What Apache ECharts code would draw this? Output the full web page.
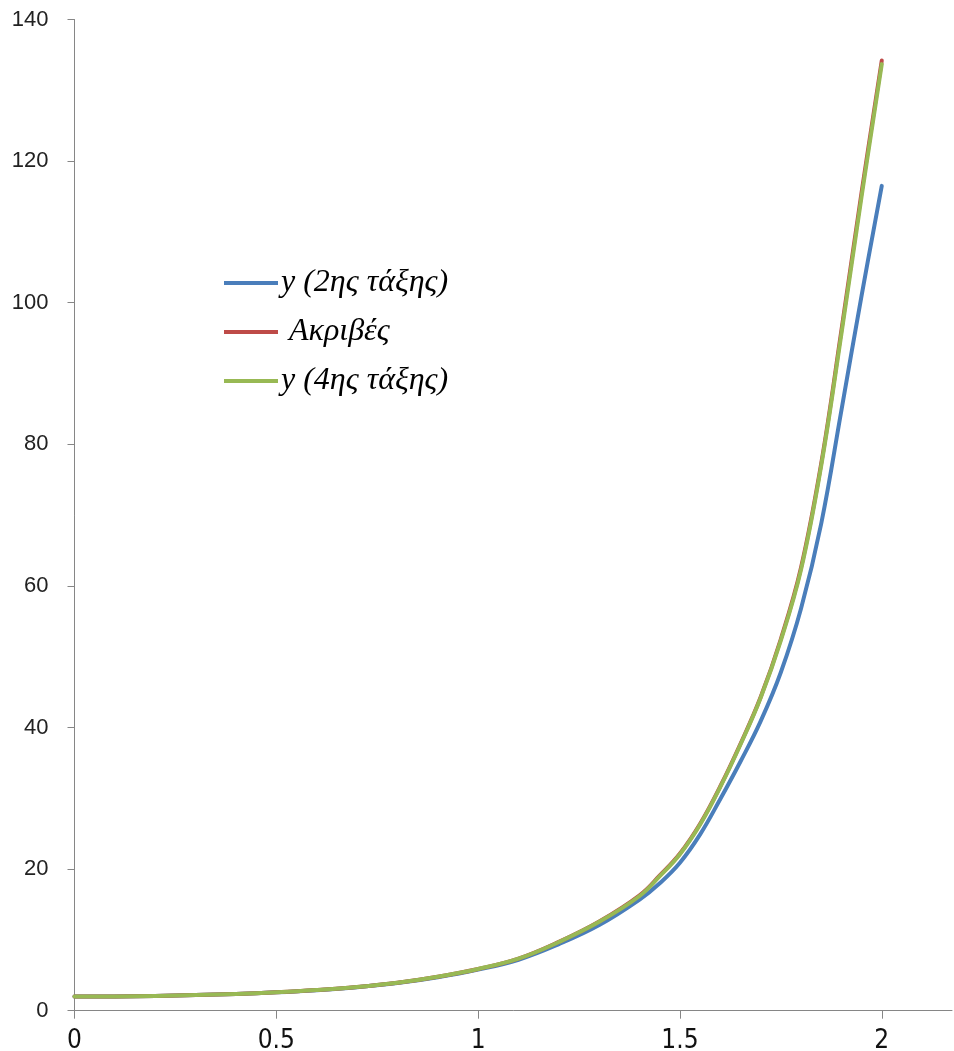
<!DOCTYPE html>
<html>
<head>
<meta charset="utf-8">
<script src="https://cdn.jsdelivr.net/npm/echarts@6/dist/echarts.min.js"></script>
<style>
html,body{margin:0;padding:0;background:#fff;}
#chart{width:954px;height:1051px;}
</style>
</head>
<body>
<div id="chart"></div>
<script>
// ---- data ----
var xValues   = [0.0, 0.1, 0.2, 0.3, 0.4, 0.5, 0.6, 0.7, 0.8, 0.9, 1.0, 1.1, 1.2, 1.3, 1.4, 1.45, 1.5, 1.55, 1.6, 1.65, 1.7, 1.75, 1.8, 1.85, 1.9, 1.95, 2.0];
var y2ndOrder = [2.00,2.02,2.09,2.20,2.36,2.59,2.90,3.32,3.90,4.72,5.80,7.20,9.40,12.1,15.7,18.0,20.9,24.9,29.9,35.2,40.9,47.8,56.8,68.8,84.8,101.0,116.5];
var yExact    = [2.00,2.02,2.09,2.20,2.37,2.60,2.92,3.35,3.95,4.80,5.90,7.36,9.72,12.6,16.3,19.1,22.2,26.4,31.7,37.7,44.3,52.5,62.6,77.3,96.1,115.6,134.2];
var y4thOrder = [2.00,2.02,2.09,2.20,2.37,2.60,2.92,3.35,3.95,4.80,5.90,7.35,9.70,12.55,16.2,19.0,22.1,26.3,31.6,37.6,44.2,52.3,62.3,77.0,95.6,115.0,133.7];
var xTickValues = [0, 0.5, 1, 1.5, 2];
var seriesNames = ['y (2ης τάξης)', ' Ακριβές', 'y (4ης τάξης)'];
var seriesColors = ['#4A7EBB', '#BE4B48', '#98B954'];

function pairs(ys){ return xValues.map(function(x,i){ return [x, ys[i]]; }); }

var chart = echarts.init(document.getElementById('chart'), null, {renderer:'canvas'});
var axisGray = '#868686';
function lineSeries(idx, ys, z){
  return {
    name: seriesNames[idx], type: 'line', data: pairs(ys), smooth: 0.4, symbol: 'none',
    lineStyle: {color: seriesColors[idx], width: 4, cap: 'round', join: 'round'},
    itemStyle: {color: seriesColors[idx]}, z: z
  };
}
var option = {
  animation: false,
  backgroundColor: '#ffffff',
  grid: {left: 74.5, right: 2, top: 19.5, bottom: 40.3, containLabel: false, outerBoundsMode: 'none'},
  legend: {
    orient: 'vertical',
    left: 224,
    top: 267,
    padding: 0,
    icon: 'rect',
    itemWidth: 54,
    itemHeight: 4,
    itemGap: 17,
    data: seriesNames,
    textStyle: {
      fontFamily: '"Liberation Serif", "DejaVu Serif", serif',
      fontStyle: 'italic',
      fontSize: 32,
      color: '#000',
      padding: [0, 0, 0, -2]
    }
  },
  xAxis: {
    type: 'value',
    min: 0,
    max: 2.174,
    axisLine: {show: true, onZero: false, lineStyle: {color: axisGray, width: 1}},
    axisTick: {show: true, customValues: xTickValues, length: 8, lineStyle: {color: axisGray}},
    axisLabel: {
      customValues: xTickValues,
      margin: 18,
      fontSize: 26,
      fontFamily: '"Liberation Sans Narrow", "DejaVu Sans Condensed", sans-serif',
      color: '#111'
    },
    splitLine: {show: false}
  },
  yAxis: {
    type: 'value',
    min: 0,
    max: 140,
    interval: 20,
    axisLine: {show: true, lineStyle: {color: axisGray, width: 1}},
    axisTick: {show: true, length: 7, lineStyle: {color: axisGray}},
    axisLabel: {
      margin: 26,
      fontSize: 22,
      fontFamily: '"Liberation Sans", Arial, sans-serif',
      color: '#222'
    },
    splitLine: {show: false}
  },
  series: [
    lineSeries(0, y2ndOrder, 2),
    lineSeries(1, yExact, 3),
    lineSeries(2, y4thOrder, 4)
  ]
};
chart.setOption(option);
</script>
</body>
</html>
